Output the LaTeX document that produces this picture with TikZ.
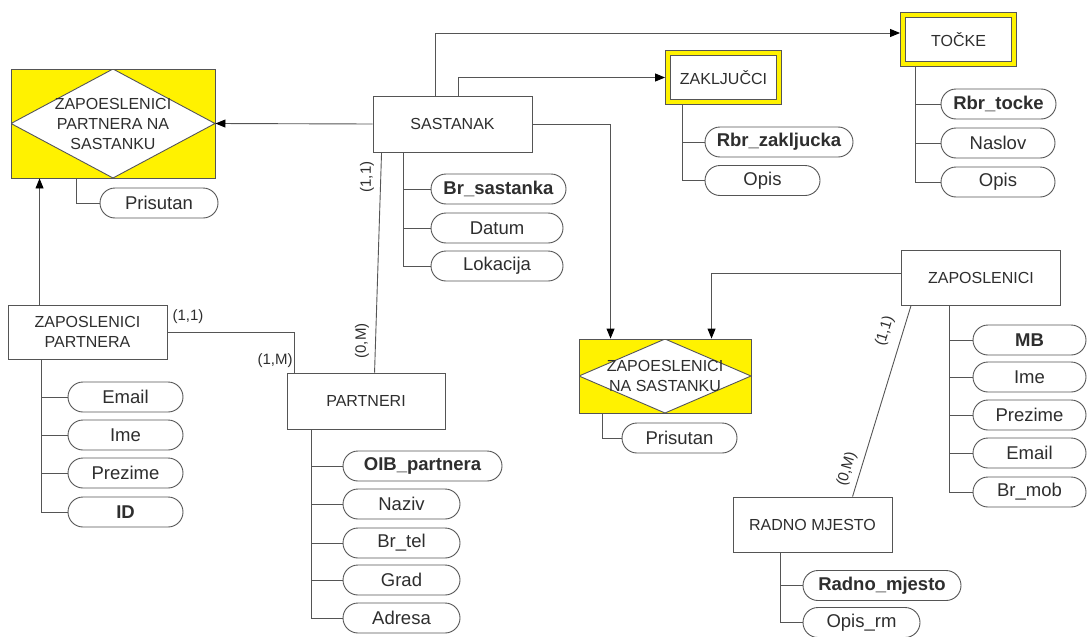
\documentclass[tikz,border=0pt]{standalone}
\usepackage{fontspec}
\setmainfont{Liberation Sans}
\usetikzlibrary{arrows.meta}

\definecolor{linegray}{HTML}{555555}
\definecolor{textgray}{HTML}{2E2E2E}

\begin{document}
\begin{tikzpicture}[x=1pt,y=-1pt,>={Triangle[length=10pt,width=8pt,black]},line width=0.9pt,
  color=linegray,
  entity/.style={draw=linegray,fill=white,minimum width=159,minimum height=55,inner sep=0pt,
    align=center,font=\fontsize{16}{20}\selectfont,text=textgray},
  weak/.style={entity,double=yellow,double distance=4pt,minimum width=111,minimum height=49},
  assoc/.style={draw=linegray,fill=yellow,inner sep=0pt,align=center,
    font=\fontsize{16}{20}\selectfont,text=textgray,
    path picture={\draw[draw=linegray,fill=white] (path picture bounding box.north)
      -- (path picture bounding box.east) -- (path picture bounding box.south)
      -- (path picture bounding box.west) -- cycle;}},
  attr/.style={draw=linegray,fill=white,rounded corners=15pt,minimum height=30,inner sep=0pt,
    font=\fontsize{18.5}{20}\selectfont,text=textgray},
  key/.style={attr,font=\bfseries\fontsize{18.5}{20}\selectfont},
  card/.style={font=\fontsize{15}{16}\selectfont,text=textgray,inner sep=0pt}]
  \useasboundingbox (0,0) rectangle (1087,637);

  % entities and relationships
  \node[assoc,minimum width=204,minimum height=109] (zpns) at (113,123.5) {ZAPOESLENICI\\PARTNERA NA\\SASTANKU};
  \node[entity,minimum height=56] (sastanak) at (452.5,124) {SASTANAK};
  \node[weak] (zakljucci) at (723.5,77.5) {ZAKLJUČCI};
  \node[weak] (tocke) at (958.5,39.5) {TOČKE};
  \node[entity,minimum height=54] (zappart) at (87.5,332) {ZAPOSLENICI\\PARTNERA};
  \node[entity,minimum width=158,minimum height=56] (partneri) at (366,401) {PARTNERI};
  \node[assoc,minimum width=172,minimum height=74] (zapns) at (665,376) {ZAPOESLENICI\\NA SASTANKU};
  \node[entity] (zaposlenici) at (981,277.5) {ZAPOSLENICI};
  \node[entity] (radno) at (812.5,524.5) {RADNO MJESTO};

  % attributes
  \node[key,minimum width=135] (brs) at (498.5,189) {Br\_sastanka};
  \node[key,minimum width=148] (rbrz) at (779,142) {Rbr\_zakljucka};
  \node[key,minimum width=115] (rbrt) at (998.5,104) {Rbr\_tocke};
  \node[key,minimum width=115] (idzp) at (125.5,512) {ID};
  \node[key,minimum width=159] (oib) at (422.5,466) {OIB\_partnera};
  \node[key,minimum width=113] (mb) at (1029.5,340) {MB};
  \node[key,minimum width=158] (rmj) at (882,585.5) {Radno\_mjesto};
  \foreach \nm/\w/\xx/\yy/\txt in {pris1/118/159/203/Prisutan, datum/132/497/228/Datum,
      lok/132/497/266/Lokacija, opisz/115/762.5/180.5/Opis, naslov/114/998/143/Naslov,
      opist/114/998/182/Opis, email1/115/125.5/397/Email, ime1/115/125.5/435/Ime,
      prez1/115/125.5/473/Prezime, naziv/117/401.5/504/Naziv, brtel/117/401.5/543/Br\_tel,
      grad/117/401.5/580/Grad, adresa/117/401.5/618/Adresa, pris2/115/679.5/438/Prisutan,
      ime2/113/1029.5/377/Ime, prez2/113/1029.5/415/Prezime, email2/113/1029.5/453/Email,
      brmob/113/1029.5/492/Br\_mob, opisrm/117/861.5/622.5/Opis\_rm}
    \node[attr,minimum width=\w] (\nm) at (\xx,\yy) {\txt};

  % attribute connectors
  \draw ([xshift=66pt]zpns.south west) |- (pris1.west);
  \foreach \a in {brs,datum,lok}
    \draw ([xshift=31pt]sastanak.south west) |- (\a.west);
  \foreach \a in {rbrz,opisz}
    \draw ([xshift=15pt,yshift=-2.9pt]zakljucci.south west) |- (\a.west);
  \foreach \a in {rbrt,naslov,opist}
    \draw ([xshift=13pt,yshift=-2.9pt]tocke.south west) |- (\a.west);
  \foreach \a in {email1,ime1,prez1,idzp}
    \draw ([xshift=34pt]zappart.south west) |- (\a.west);
  \foreach \a in {oib,naziv,brtel,grad,adresa}
    \draw ([xshift=25pt]partneri.south west) |- (\a.west);
  \draw ([xshift=24pt]zapns.south west) |- (pris2.west);
  \foreach \a in {mb,ime2,prez2,email2,brmob}
    \draw ([xshift=48pt]zaposlenici.south west) |- (\a.west);
  \foreach \a in {rmj,opisrm}
    \draw ([xshift=48pt]radno.south west) |- (\a.west);

  % relationships
  \draw[->] (sastanak.west) -- (zpns.east);
  \draw[->] ([xshift=32pt]zappart.north west) -- ([xshift=29pt]zpns.south west);
  \draw[->,shorten >=2.5pt] ([xshift=63pt]sastanak.north west) |- ([yshift=6.5pt]tocke.west);
  \draw[->,shorten >=2.5pt] ([xshift=86pt]sastanak.north west) |- (zakljucci.west);
  \draw[->] (sastanak.east) -| ([xshift=32pt]zapns.north west);
  \draw[->] ([yshift=4.5pt]zaposlenici.west) -| ([xshift=133pt]zapns.north west);
  \draw (zappart.east) -| ([xshift=8pt]partneri.north west);
  \draw ([xshift=9pt]sastanak.south west) -- ([xshift=88pt]partneri.north west);
  \draw ([xshift=10pt]zaposlenici.south west) -- ([xshift=120pt]radno.north west);

  % cardinalities
  \node[card] (c1) at (188,317) {(1,1)};
  \node[card] (c2) at (275,361) {(1,M)};
  \node[card,rotate=90] (c3) at (367,177) {(1,1)};
  \node[card,rotate=90] (c4) at (362,341) {(0,M)};
  \node[card,rotate=73] (c5) at (885,331) {(1,1)};
  \node[card,rotate=73] (c6) at (847,469) {(0,M)};
\end{tikzpicture}
\end{document}
